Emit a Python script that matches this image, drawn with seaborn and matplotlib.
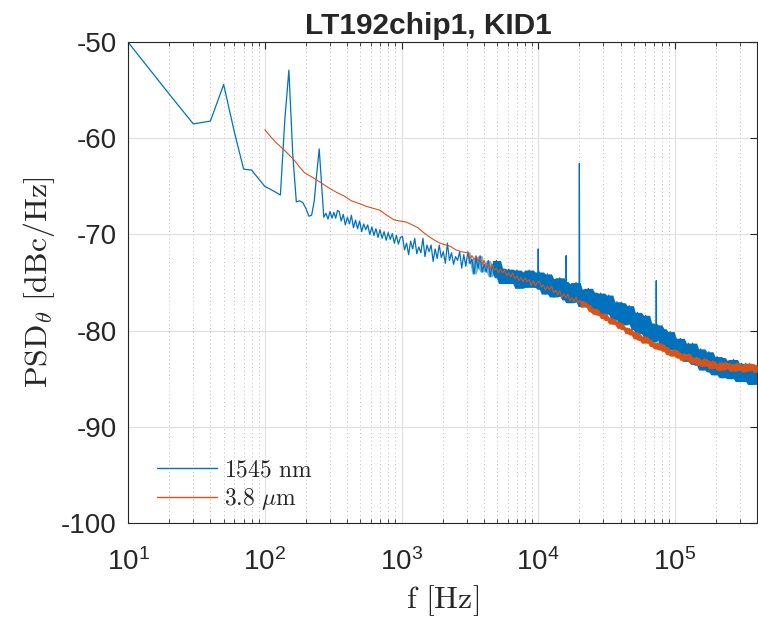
import numpy as np
import pandas as pd
import matplotlib
matplotlib.use("Agg")
import matplotlib.pyplot as plt
import matplotlib.ticker as mticker
import seaborn as sns

# ---------------- data ----------------
title = "LT192chip1, KID1"
series_names = [r"$\mathrm{1545\ nm}$", r"$\mathrm{3.8}\ \mu\mathrm{m}$"]

# blue (1545 nm) - low-frequency part, 10 Hz bins
f_blue_a = [10, 20, 30, 40, 50, 60, 70, 80, 90, 100,
            110, 120, 130, 140, 150, 160, 170, 180, 190, 200,
            210, 220, 230, 240, 250, 260, 270, 280, 290, 300,
            310, 320, 330, 340]
v_blue_a = [-50.0, -55.4, -58.5, -58.2, -54.4, -59.4, -63.2, -63.3, -64.2, -65.0,
            -65.3, -65.6, -65.9, -58.1, -52.9, -61.6, -66.6, -66.5, -66.7, -67.3,
            -68.1, -68.0, -66.5, -63.6, -61.1, -64.8, -68.2, -67.8, -68.4, -67.6,
            -68.3, -67.7, -68.3, -67.5]

f_b1 = [350, 362, 375, 388, 402, 416, 430, 445, 461, 477,
        494, 511, 529, 547, 566, 586, 607, 628, 650, 673,
        696, 721, 746, 772, 799, 827, 856, 886, 917, 949,
        982]
v_blue_b1 = [-67.6, -68.6, -67.9, -69.0, -68.2, -68.9, -68.0, -69.3, -68.5, -69.4,
             -68.6, -69.7, -68.9, -69.5, -69.0, -70.0, -69.2, -70.1, -69.4, -70.3,
             -69.5, -70.4, -69.7, -70.6, -69.8, -70.5, -69.9, -70.9, -70.1, -71.0,
             -70.3]

f_b2 = [1016, 1052, 1089, 1127, 1166, 1207, 1249, 1293, 1338, 1385,
        1434, 1484, 1536, 1590, 1645, 1703, 1762, 1824, 1888, 1954,
        2022, 2093, 2166, 2242, 2321, 2402, 2486, 2573, 2663, 2756,
        2853, 2953, 3056, 3163, 3274, 3388, 3507, 3630, 3757, 3888,
        4024, 4165, 4311, 4462, 4618, 4780, 4947, 5120, 5299, 5485,
        5677, 5875, 6081, 6294, 6514, 6742, 6978, 7222, 7475, 7737,
        8007, 8288, 8578, 8878, 9189, 9510, 9843]
v_blue_b2 = [-70.2, -71.6, -70.9, -72.1, -70.7, -71.5, -70.4, -72.0, -71.3, -71.9,
             -70.4, -72.3, -71.1, -71.8, -71.1, -72.8, -71.5, -72.5, -71.1, -72.4,
             -71.8, -73.0, -70.9, -72.7, -71.9, -73.1, -72.3, -72.7, -71.8, -73.5,
             -72.1, -73.3, -71.8, -73.0, -72.6, -74.1, -72.4, -73.5, -72.2, -73.9,
             -73.1, -73.9, -72.7, -74.4, -73.2, -74.0, -72.7, -74.5, -73.5, -75.1,
             -73.8, -74.6, -73.6, -75.1, -74.2, -75.1, -73.7, -75.6, -73.9, -74.7,
             -73.9, -75.5, -73.7, -75.2, -74.5, -75.5, -74.5]

f_b3 = [10188, 10544, 10913, 11295, 11691, 12100, 12523, 12962, 13415, 13885,
        14371, 14874, 15394, 15933, 16491, 17068, 17665, 18284, 18924, 19586,
        20271, 20981, 21715, 22475, 23262, 24076, 24919, 25791, 26694, 27628,
        28595, 29596, 30632, 31704, 32813, 33962, 35150, 36381, 37654, 38972,
        40336, 41748, 43209, 44721, 46287, 47907, 49583, 51319, 53115, 54974,
        56898, 58889, 60950, 63084, 65292, 67577, 69942, 72390, 74924, 77546,
        80260, 83069, 85977, 88986, 92101, 95324, 98661]
v_blue_b3 = [-73.9, -75.7, -74.6, -76.2, -74.1, -75.7, -74.6, -76.5, -75.1, -76.4,
             -74.5, -76.3, -74.9, -76.8, -75.4, -77.1, -75.1, -76.5, -75.0, -77.0,
             -75.7, -77.5, -76.2, -77.5, -75.6, -77.4, -76.0, -78.1, -76.5, -77.7,
             -76.1, -78.3, -77.0, -78.3, -76.3, -78.1, -77.0, -78.9, -77.0, -78.3,
             -77.1, -79.4, -77.7, -79.2, -77.4, -79.3, -78.4, -79.9, -78.1, -80.3,
             -78.9, -80.1, -78.4, -80.7, -79.2, -81.2, -79.7, -81.0, -79.4, -81.0,
             -79.8, -81.9, -80.3, -81.9, -80.1, -82.0, -80.9]

f_b4 = [102114, 105688, 109387, 113216, 117178, 121280, 125524, 129918, 134465, 139171,
        144042, 149084, 154302, 159702, 165292, 171077, 177065, 183262, 189676, 196315,
        203186, 210298, 217658, 225276, 233160, 241321, 249767, 258509, 267557, 276922,
        286614, 296645, 307028, 317774, 328896, 340407, 352321, 364652, 377415, 390625,
        400000]
v_blue_b4 = [-80.8, -82.6, -80.8, -82.5, -81.5, -83.2, -81.3, -83.0, -81.3, -83.5,
             -82.1, -83.6, -81.9, -84.1, -82.4, -83.7, -82.2, -84.3, -83.1, -84.6,
             -82.7, -84.4, -82.8, -84.9, -83.3, -84.8, -83.1, -85.0, -83.0, -84.8,
             -83.5, -85.3, -83.4, -85.2, -83.4, -85.3, -84.0, -85.6, -83.7, -85.5,
             -84.1]

# narrow spurious lines in the 1545 nm spectrum (foot, top, foot)
spike_f = [9950, 10000, 10050, 15920, 16000, 16080,
           19900, 20000, 20100, 72650, 73000, 73350]
spike_v = [-74.9, -71.5, -74.9, -75.9, -72.2, -75.9,
           -76.3, -62.6, -76.3, -80.2, -74.8, -80.2]

# orange (3.8 um)
f_orange_a = [100, 110, 120, 136, 150, 165, 180, 196, 220, 250,
              290, 333, 380, 430, 495, 560, 630, 700, 780, 890,
              980, 1080, 1200, 1320, 1450, 1580, 1700, 1850, 2000, 2250,
              2500, 2750]
v_orange_a = [-59.1, -59.8, -60.4, -61.1, -61.7, -62.3, -63.0, -63.6, -64.0, -64.5,
              -65.1, -65.6, -66.0, -66.5, -66.8, -67.1, -67.3, -67.5, -68.0, -68.5,
              -68.6, -68.7, -69.0, -69.3, -69.8, -70.2, -70.5, -70.8, -71.0, -71.2,
              -71.6, -71.8]
v_orange_b2 = [-71.9, -72.5, -72.2, -72.6, -72.2, -72.7, -72.5, -73.1,
               -72.7, -73.3, -73.1, -73.6, -73.1, -73.7, -73.5, -74.0, -73.6, -74.0,
               -73.7, -74.3, -74.0, -74.4, -74.0, -74.6, -74.3, -74.8, -74.5, -74.9,
               -74.5, -74.9, -74.7, -75.3, -74.8, -75.3, -75.0]
v_orange_b3 = [-74.85, -75.45, -75.25, -75.8, -75.35, -75.75, -75.35, -76.05, -75.8, -76.3,
               -75.85, -76.55, -76.15, -76.6, -76.2, -76.9, -76.55, -77.0, -76.5, -77.1,
               -76.85, -77.55, -77.0, -77.55, -77.3, -78.0, -77.65, -78.3, -77.75, -78.4,
               -78.2, -78.75, -78.2, -78.95, -78.6, -79.3, -78.75, -79.35, -79.05, -79.75,
               -79.2, -79.9, -79.65, -80.3, -79.75, -80.45, -80.1, -80.85, -80.2, -81.0,
               -80.55, -81.3, -80.6, -81.3, -80.9, -81.65, -81.25, -81.9, -81.25, -82.0,
               -81.4, -82.15, -81.7, -82.5, -82.0, -82.65, -82.0]
v_orange_b4 = [-82.05, -82.85, -82.35, -83.1, -82.4, -83.0, -82.4, -83.3, -82.8, -83.4,
               -82.75, -83.6, -83.05, -83.7, -82.9, -83.65, -83.15, -83.95, -83.15, -83.9,
               -83.45, -84.15, -83.3, -84.1, -83.3, -83.95, -83.4, -84.2, -83.5, -84.2,
               -83.35, -84.1, -83.6, -84.3, -83.45, -84.2, -83.4, -84.1, -83.5, -84.35,
               -83.6]

x_ticks = [10, 100, 1000, 10000, 100000]
x_tick_labels = [r"$10^{1}$", r"$10^{2}$", r"$10^{3}$", r"$10^{4}$", r"$10^{5}$"]
y_ticks = [-100, -90, -80, -70, -60, -50]
y_tick_labels = ["-100", "-90", "-80", "-70", "-60", "-50"]

# ---------------- assemble ----------------
blue_base = pd.DataFrame({
    "f": f_blue_a + f_b1 + f_b2 + f_b3 + f_b4,
    "psd": v_blue_a + v_blue_b1 + v_blue_b2 + v_blue_b3 + v_blue_b4,
})
blue = pd.concat([blue_base, pd.DataFrame({"f": spike_f, "psd": spike_v})]) \
    .sort_values("f", kind="stable").reset_index(drop=True)

orange = pd.DataFrame({
    "f": f_orange_a + f_b2[32:] + f_b3 + f_b4,
    "psd": v_orange_a + v_orange_b2 + v_orange_b3 + v_orange_b4,
})


def band(df, fmin, win):
    """Envelope (min/max over neighbouring bins) of the noisy spectrum."""
    d = df[df["f"] >= fmin].reset_index(drop=True)
    hi = d["psd"].rolling(win, center=True, min_periods=1).max()
    lo = d["psd"].rolling(win, center=True, min_periods=1).min()
    return d["f"], lo, hi


# ---------------- style ----------------
sns.set_theme(style="white")
plt.rcParams["font.family"] = ["Liberation Sans", "DejaVu Sans"]
plt.rcParams["mathtext.fontset"] = "custom"
plt.rcParams["mathtext.rm"] = "Liberation Sans"
plt.rcParams["mathtext.it"] = "Liberation Sans:italic"
plt.rcParams["mathtext.bf"] = "Liberation Sans:bold"
plt.rcParams["axes.unicode_minus"] = False

BLUE = "#0072BD"
ORANGE = "#D95319"
AXC = "#262626"

fig = plt.figure(figsize=(7.58, 6.21), dpi=100)
ax = fig.add_axes([0.169, 0.158, 0.830, 0.774])

sns.lineplot(data=blue, x="f", y="psd", ax=ax, color=BLUE, lw=0.9,
             sort=False, estimator=None, label=series_names[0], zorder=2)
bf, blo, bhi = band(blue_base, 4500, 5)
ax.fill_between(bf, blo, bhi, color=BLUE, lw=0, zorder=2)
bf2, blo2, bhi2 = band(blue_base[blue_base["f"] < 6000], 3000, 3)
ax.fill_between(bf2, blo2, bhi2, color=BLUE, lw=0, alpha=0.55, zorder=2)

sns.lineplot(data=orange, x="f", y="psd", ax=ax, color=ORANGE, lw=0.8,
             sort=False, estimator=None, label=series_names[1], zorder=3)
of, olo, ohi = band(orange, 20000, 3)
ax.fill_between(of, olo, ohi, color=ORANGE, lw=0, zorder=3)

ax.set_xscale("log")
ax.set_xlim(10, 4e5)
ax.set_ylim(-100, -50)

ax.set_xticks(x_ticks)
ax.set_xticklabels(x_tick_labels)
ax.xaxis.set_minor_locator(mticker.LogLocator(base=10, subs=np.arange(2, 10), numticks=20))
ax.xaxis.set_minor_formatter(mticker.NullFormatter())
ax.set_yticks(y_ticks)
ax.set_yticklabels(y_tick_labels)

ax.grid(True, which="major", axis="both", color="#e0e0e0", lw=0.9)
ax.grid(True, which="minor", axis="x", color="#bdbdbd", lw=0.7, ls=(0, (1, 3)))
ax.set_axisbelow(True)

ax.tick_params(axis="both", which="major", direction="in", length=5, width=0.8,
               colors=AXC, labelsize=20, top=True, right=True)
ax.tick_params(axis="x", which="major", pad=18)
ax.tick_params(axis="y", which="major", pad=8)
ax.tick_params(axis="x", which="minor", direction="in", length=3, width=0.6,
               colors=AXC, top=True, bottom=True)
for s in ax.spines.values():
    s.set_color(AXC)
    s.set_linewidth(0.8)

ax.set_xlabel(r"$\mathrm{f\ [Hz]}$", fontsize=23, math_fontfamily="cm", labelpad=5)
ax.set_ylabel(r"$\mathrm{PSD}_{\theta}\ \mathrm{[dBc/Hz]}$", fontsize=23,
              math_fontfamily="cm", labelpad=3)
ax.set_title(title, fontsize=21.5, fontweight="bold", x=0.477, pad=6)

leg = ax.legend(loc="lower left", bbox_to_anchor=(0.046, 0.022), frameon=False,
                prop={"size": 17, "math_fontfamily": "cm"}, handlelength=2.55,
                handletextpad=0.3, labelspacing=0.2, borderaxespad=0, borderpad=0)
for h in leg.get_lines():
    h.set_linewidth(1.0)

fig.savefig("out.png", dpi=100)
